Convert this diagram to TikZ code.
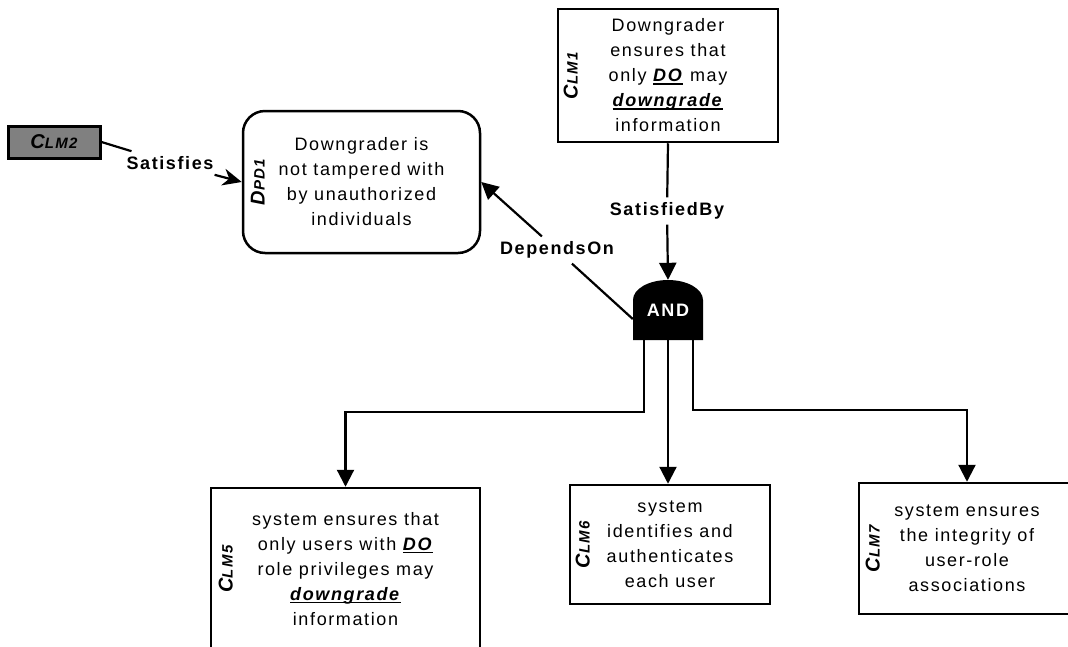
\documentclass[tikz,border=0pt]{standalone}
\usepackage{fontspec}
\setmainfont{Liberation Sans}[LetterSpace=9]
\usepackage{tikz}
\usetikzlibrary{arrows.meta,positioning,calc}
\tikzset{
    line/.style   = {line width=2.2pt, draw=black},
    arrow/.style  = {line, -{Triangle[length=17pt,width=17pt]}},
    sharp/.style  = {line, -{Stealth[length=19pt,width=17pt]}},
    claim/.style  = {draw=black, line width=2.5pt, fill=white,
            align=center, inner sep=0pt,
            font=\fontsize{18}{25}\selectfont},
    depend/.style = {claim, rounded corners=22pt},
    tag/.style    = {rotate=90, inner sep=0pt,
            font=\bfseries\itshape\fontsize{20}{20}\selectfont},
    solved/.style = {draw=black, line width=3pt, fill=black!50,
            minimum width=92pt, minimum height=32pt, inner sep=0pt,
            font=\bfseries\itshape\fontsize{20}{20}\selectfont},
    rel/.style    = {inner sep=5pt, font=\bfseries\fontsize{18}{18}\selectfont},
    gate/.style   = {fill=white, minimum width=70pt, minimum height=60pt,
            inner sep=0pt, text=white,
            font=\bfseries\fontsize{18}{18}\selectfont,
            path picture={\fill[black] (path picture bounding box.south west)
                -- ([yshift=40pt]path picture bounding box.south west)
                arc[start angle=180, end angle=0, x radius=35pt, y radius=20pt]
                -- (path picture bounding box.south east) -- cycle;}},
}
\newcommand{\Tag}[2]{#1{\fontsize{15}{15}\selectfont #2}}
% underline close to the baseline
\newcommand{\Key}[1]{\setbox0\hbox{\textbf{\textit{#1}}}%
    \rlap{\rule[-2.8pt]{\wd0}{1.3pt}}\box0\relax}

\begin{document}
\begin{tikzpicture}[x=1pt, y=-1pt]
    \useasboundingbox (0,0) rectangle (1068,646);

    % claims and dependency
    \node[claim, minimum width=220pt, minimum height=133pt] (clm1) at (668,75.5)
        {Downgrader\\ensures that\\only \Key{DO} may\\\Key{downgrade}\\information};
    \node[tag] (clm1tag) at ([xshift=14pt]clm1.west) {\Tag{C}{LM1}};

    \node[depend, minimum width=237pt, minimum height=142pt] (dpd1) at (361.5,182)
        {Downgrader is\\not tampered with\\by unauthorized\\individuals};
    \node[tag] (dpd1tag) at ([xshift=16pt]dpd1.west) {\Tag{D}{PD1}};

    \node[solved] (clm2) at (54,142) {\Tag{C}{LM2}};

    \node[claim, minimum width=269pt, minimum height=162pt] (clm5) at (345.5,569)
        {system ensures that\\only users with \Key{DO}\\role privileges may\\\Key{downgrade}\\information};
    \node[tag] (clm5tag) at ([xshift=16pt]clm5.west) {\Tag{C}{LM5}};

    \node[claim, minimum width=200pt, minimum height=119pt] (clm6) at (670,544.5)
        {system\\identifies and\\authenticates\\each user};
    \node[tag] (clm6tag) at ([xshift=14pt]clm6.west) {\Tag{C}{LM6}};

    \node[claim, minimum width=216pt, minimum height=131pt] (clm7) at (967,548.5)
        {system ensures\\the integrity of\\user-role\\associations};
    \node[tag] (clm7tag) at ([xshift=15pt]clm7.west) {\Tag{C}{LM7}};

    % AND gate
    \node[gate] (andg) at (668,310) {AND};

    % relation labels
    \node[rel] (sat) at (170,163) {Satisfies};
    \node[rel] (satby) at (667,211) {SatisfiedBy};
    \node[rel] (dep) at (557,250) {DependsOn};

    % connectors
    \draw[line] (clm2.east) -- (sat);
    \draw[sharp] (sat) -- (dpd1.west);
    \draw[line] (clm1.south) -- (satby);
    \draw[arrow] (satby) -- (andg.north);
    \draw[line] ([yshift=-9pt]andg.west) -- (dep);
    \draw[arrow] (dep) -- (dpd1.east);
    \draw[arrow] ([xshift=-24pt]andg.south) -- ++(0,72) -| (clm5.north);
    \draw[arrow] (andg.south) -- (andg.south |- clm6.north);
    \draw[arrow] ([xshift=25pt]andg.south) -- ++(0,70) -| (clm7.north);
\end{tikzpicture}
\end{document}
